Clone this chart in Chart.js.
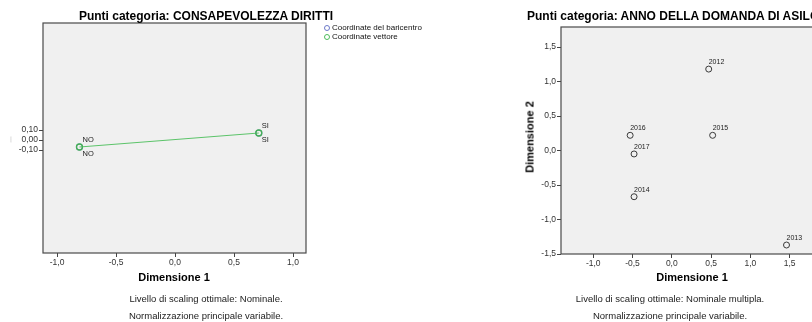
<!DOCTYPE html>
<html><head><meta charset="utf-8">
<script src="https://cdn.jsdelivr.net/npm/chart.js@4/dist/chart.umd.min.js"></script>
<style>
html,body{margin:0;padding:0;width:812px;height:322px;overflow:hidden;background:#fff;font-family:"Liberation Sans",Arial,sans-serif;}
.t{position:absolute;white-space:nowrap;color:#000;}
.c{transform:translateX(-50%);}
canvas{position:absolute;top:0;}
.lg{position:absolute;font-size:8px;line-height:8px;color:#111;white-space:nowrap;}
.lg i{display:inline-block;width:6px;height:6px;border-radius:50%;border:1px solid;margin-right:2px;vertical-align:-1px;box-sizing:border-box;}
</style></head><body>
<canvas id="c1" width="320" height="300" style="left:0"></canvas>
<canvas id="c2" width="320" height="300" style="left:520px"></canvas>

<div class="t c" style="left:206px;top:10px;font-size:12px;line-height:12px;font-weight:bold">Punti categoria: CONSAPEVOLEZZA DIRITTI</div>
<div class="t c" style="left:174px;top:271.5px;font-size:11px;line-height:11px;font-weight:bold">Dimensione 1</div>
<div class="t c" style="left:206px;top:293.8px;font-size:9.5px;line-height:9.5px;color:#222">Livello di scaling ottimale: Nominale.</div>
<div class="t c" style="left:206px;top:310.5px;font-size:9.5px;line-height:9.5px;color:#222">Normalizzazione principale variabile.</div>
<div class="t" style="left:6px;top:136px;font-size:7px;line-height:7px;color:#777;transform:rotate(-90deg)">...</div>
<div class="lg" style="left:324px;top:24px"><i style="border-color:#6b78c8"></i>Coordinate del baricentro</div>
<div class="lg" style="left:324px;top:33px"><i style="border-color:#4cbb5a"></i>Coordinate vettore</div>

<div class="t" style="left:527px;top:10px;font-size:12px;line-height:12px;font-weight:bold">Punti categoria: ANNO DELLA DOMANDA DI ASILO</div>
<div class="t c" style="left:692px;top:271.5px;font-size:11px;line-height:11px;font-weight:bold">Dimensione 1</div>
<div class="t c" style="left:670px;top:293.8px;font-size:9.5px;line-height:9.5px;color:#222">Livello di scaling ottimale: Nominale multipla.</div>
<div class="t c" style="left:670px;top:310.5px;font-size:9.5px;line-height:9.5px;color:#222">Normalizzazione principale variabile.</div>
<div class="t" style="left:530px;top:137px;font-size:11px;line-height:11px;font-weight:bold;transform:translate(-50%,-50%) rotate(-90deg)">Dimensione 2</div>

<script>
// ---- data ----
const leftCategories = ['NO', 'SI'];
const leftDim1 = [-0.81, 0.71];
const leftDim2 = [-0.07, 0.07];
const leftXTicks = [-1, -0.5, 0, 0.5, 1];
const leftYTicks = [-0.1, 0, 0.1];

const rightCategories = ['2012', '2013', '2014', '2015', '2016', '2017'];
const rightDim1 = [0.47, 1.46, -0.48, 0.52, -0.53, -0.48];
const rightDim2 = [1.18, -1.37, -0.67, 0.22, 0.22, -0.05];
const rightXTicks = [-1, -0.5, 0, 0.5, 1, 1.5];
const rightYTicks = [-1.5, -1, -0.5, 0, 0.5, 1, 1.5];

const FONT = '"Liberation Sans", Arial, sans-serif';
const toPts = (xs, ys) => xs.map((x, i) => ({x: x, y: ys[i]}));
const fmt = d => v => Number(v).toFixed(d).replace('.', ',');

const frame = {
  id: 'frame',
  beforeDatasetsDraw(chart) {
    const a = chart.chartArea, ctx = chart.ctx;
    ctx.save(); ctx.fillStyle = '#f0f0f0';
    ctx.fillRect(a.left, a.top, a.right - a.left, a.bottom - a.top);
    ctx.restore();
  },
  afterDraw(chart) {
    const a = chart.chartArea, ctx = chart.ctx;
    ctx.save(); ctx.strokeStyle = '#4a4a4a'; ctx.lineWidth = 1.2;
    ctx.strokeRect(a.left, a.top, a.right - a.left, a.bottom - a.top);
    ctx.restore();
  }
};
const labels = {
  id: 'labels',
  afterDatasetsDraw(chart) {
    const ctx = chart.ctx;
    chart.data.datasets.forEach((ds, di) => {
      if (!ds.catLabels) return;
      const meta = chart.getDatasetMeta(di);
      ctx.save();
      ctx.font = ds.labelFont; ctx.fillStyle = '#222';
      ctx.textAlign = 'left'; ctx.textBaseline = 'middle';
      meta.data.forEach((el, i) => ctx.fillText(ds.catLabels[i], el.x + ds.labelDx, el.y + ds.labelDy));
      ctx.restore();
    });
  }
};

function axis(min, max, ticks, dec, fitKey, fitVal, pad) {
  return {
    type: 'linear', min: min, max: max,
    afterBuildTicks: s => { s.ticks = ticks.map(v => ({value: v})); },
    afterFit: s => { s[fitKey] = fitVal; },
    ticks: {callback: fmt(dec), color: '#333', font: {family: FONT, size: 8.5}, padding: pad, autoSkip: false, maxRotation: 0},
    grid: {drawOnChartArea: false, drawTicks: true, tickLength: 4, color: '#444', lineWidth: 1},
    border: {display: false}
  };
}

const common = {
  responsive: false, animation: false, devicePixelRatio: 1,
  plugins: {legend: {display: false}, tooltip: {enabled: false}, title: {display: false}}
};

new Chart(document.getElementById('c1'), {
  type: 'scatter',
  data: {datasets: [
    {label: 'Coordinate del baricentro', data: toPts(leftDim1, leftDim2), order: 2,
     pointRadius: 3, pointBorderWidth: 1.1, borderColor: '#6b78c8', backgroundColor: 'rgba(0,0,0,0)',
     catLabels: leftCategories, labelDx: 3, labelDy: -7.5, labelFont: '7.5px ' + FONT},
    {label: 'Coordinate vettore', data: toPts(leftDim1, leftDim2), showLine: true, order: 1,
     borderColor: '#5cc46a', borderWidth: 1, pointBorderColor: '#45b055', pointRadius: 3, pointBorderWidth: 1.3,
     backgroundColor: 'rgba(0,0,0,0)', pointBackgroundColor: 'rgba(0,0,0,0)',
     catLabels: leftCategories, labelDx: 3, labelDy: 7, labelFont: '7.5px ' + FONT}
  ]},
  options: Object.assign({}, common, {
    layout: {padding: {left: 0, top: 23, right: 14, bottom: 27}},
    scales: {
      x: axis(-1.119, 1.11, leftXTicks, 1, 'height', 20, 1),
      y: axis(-1.13, 1.17, leftYTicks, 2, 'width', 43, 1)
    }
  }),
  plugins: [frame, labels]
});

new Chart(document.getElementById('c2'), {
  type: 'scatter',
  data: {datasets: [
    {label: 'Punti', data: toPts(rightDim1, rightDim2),
     pointRadius: 3, pointBorderWidth: 1, borderColor: '#3a3a3a', backgroundColor: 'rgba(0,0,0,0)',
     catLabels: rightCategories, labelDx: 0, labelDy: -7, labelFont: '7px ' + FONT}
  ]},
  options: Object.assign({}, common, {
    layout: {padding: {left: 0, top: 27, right: 15, bottom: 26}},
    scales: {
      x: axis(-1.41, 1.95, rightXTicks, 1, 'height', 20, 1),
      y: axis(-1.5, 1.79, rightYTicks, 1, 'width', 41, 1)
    }
  }),
  plugins: [frame, labels]
});
</script>
</body></html>
